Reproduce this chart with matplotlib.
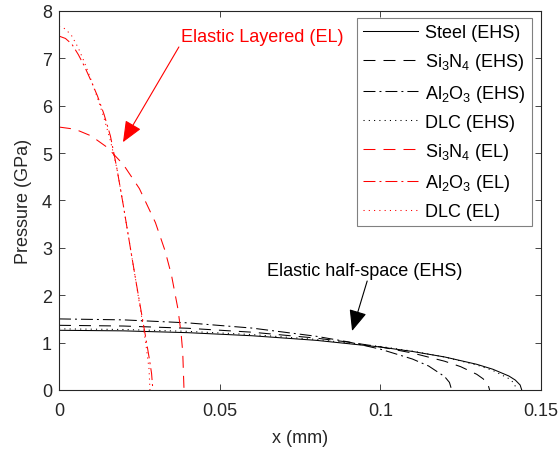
import matplotlib
matplotlib.use("Agg")
import matplotlib.pyplot as plt

plt.rcParams['font.family'] = ['Liberation Sans', 'DejaVu Sans']
plt.rcParams['mathtext.fontset'] = 'custom'
plt.rcParams['mathtext.rm'] = 'Liberation Sans'
plt.rcParams['mathtext.it'] = 'Liberation Sans:italic'
plt.rcParams['lines.scale_dashes'] = False

# elastic half-space (EHS) curves
steel_ehs_x = [0, 0.02, 0.04, 0.06, 0.08, 0.10, 0.11, 0.12, 0.13, 0.135, 0.14, 0.142, 0.1435, 0.144]
steel_ehs_p = [1.26, 1.248, 1.21, 1.145, 1.048, 0.907, 0.813, 0.697, 0.542, 0.438, 0.295, 0.209, 0.105, 0]

si3n4_ehs_x = [0, 0.02, 0.04, 0.06, 0.08, 0.09, 0.10, 0.11, 0.12, 0.125, 0.13, 0.132, 0.1335, 0.134]
si3n4_ehs_p = [1.365, 1.35, 1.303, 1.22, 1.095, 1.011, 0.909, 0.78, 0.607, 0.492, 0.331, 0.235, 0.118, 0]

al2o3_ehs_x = [0, 0.02, 0.04, 0.06, 0.08, 0.09, 0.10, 0.11, 0.115, 0.12, 0.1215, 0.1222]
al2o3_ehs_p = [1.50, 1.48, 1.417, 1.307, 1.134, 1.015, 0.862, 0.653, 0.507, 0.283, 0.16, 0]

dlc_ehs_x = [0, 0.02, 0.04, 0.06, 0.08, 0.10, 0.11, 0.12, 0.13, 0.135, 0.14, 0.1415, 0.1425]
dlc_ehs_p = [1.29, 1.277, 1.238, 1.17, 1.067, 0.919, 0.82, 0.696, 0.528, 0.413, 0.24, 0.153, 0]

# elastic layered (EL) curves
si3n4_el_x = [0, 0.005, 0.01, 0.015, 0.02, 0.025, 0.03, 0.033, 0.035, 0.037, 0.038, 0.0385, 0.0389]
si3n4_el_p = [5.55, 5.504, 5.363, 5.121, 4.76, 4.252, 3.533, 2.938, 2.422, 1.713, 1.187, 0.794, 0]

al2o3_el_x = [0, 0.002, 0.004, 0.006, 0.008, 0.010, 0.012, 0.014, 0.016, 0.018, 0.020, 0.022,
              0.024, 0.026, 0.027, 0.028, 0.0288, 0.0292]
al2o3_el_p = [7.47, 7.42, 7.30, 7.08, 6.82, 6.52, 6.20, 5.82, 5.36, 4.68, 3.90, 3.08,
              2.27, 1.49, 1.10, 0.70, 0.35, 0]

dlc_el_x = [0, 0.002, 0.004, 0.006, 0.008, 0.010, 0.012, 0.014, 0.016, 0.018, 0.020, 0.022,
            0.024, 0.026, 0.027, 0.028, 0.0283]
dlc_el_p = [7.68, 7.62, 7.47, 7.22, 6.90, 6.54, 6.16, 5.74, 5.26, 4.68, 3.90, 3.08,
            2.26, 1.42, 0.98, 0.45, 0]

dash = (8.6, 5.8)
dashdot = (8.6, 2.9, 1.4, 2.9)
dot = (0.8, 3.0)
lw = 0.75

fig = plt.figure(figsize=(5.6, 4.52), dpi=100)
ax = fig.add_axes([0.1054, 0.135, 0.8607, 0.8385])

ax.plot(steel_ehs_x, steel_ehs_p, color='k', lw=lw, label='Steel (EHS)')
ax.plot(si3n4_ehs_x, si3n4_ehs_p, color='k', lw=lw, dashes=dash, label='Si$_3$N$_4$ (EHS)')
ax.plot(al2o3_ehs_x, al2o3_ehs_p, color='k', lw=lw, dashes=dashdot, label='Al$_2$O$_3$ (EHS)')
ax.plot(dlc_ehs_x, dlc_ehs_p, color='k', lw=lw, dashes=dot, label='DLC (EHS)')
ax.plot(si3n4_el_x, si3n4_el_p, color='r', lw=lw, dashes=dash, label='Si$_3$N$_4$ (EL)')
ax.plot(al2o3_el_x, al2o3_el_p, color='r', lw=lw, dashes=dashdot, label='Al$_2$O$_3$ (EL)')
ax.plot(dlc_el_x, dlc_el_p, color='r', lw=lw, dashes=dot, label='DLC (EL)')

ax.set_xlim(0, 0.15)
ax.set_ylim(0, 8)
ax.set_xticks([0, 0.05, 0.1, 0.15])
ax.set_xticklabels(['0', '0.05', '0.1', '0.15'])
ax.set_yticks(range(0, 9))
ax.tick_params(direction='in', top=True, right=True, length=4.3, width=0.6,
               labelsize=13, colors='#262626', pad=5)
ax.tick_params(axis='x', pad=8.5)
for s in ax.spines.values():
    s.set_linewidth(0.8)
    s.set_color('#262626')
ax.set_xlabel('x (mm)', fontsize=13, color='#262626', labelpad=7.5)
ax.set_ylabel('Pressure (GPa)', fontsize=13, color='#262626', labelpad=7.5)

leg = ax.legend(loc='upper right', bbox_to_anchor=(0.981, 0.9815), borderaxespad=0,
                fontsize=13, handlelength=3.05, handletextpad=0.4, borderpad=0.35,
                labelspacing=0.56, fancybox=False, framealpha=1)
leg.get_frame().set_edgecolor('0.5')
leg.get_frame().set_linewidth(0.8)

ax.text(0.0632, 7.47, 'Elastic Layered (EL)', color='r', fontsize=13, ha='center', va='center')
ax.annotate('', xy=(0.0199, 5.23), xytext=(0.0373, 7.24),
            arrowprops=dict(arrowstyle='-|>,head_length=1.3,head_width=0.55', color='r',
                            lw=0.8, mutation_scale=10, shrinkA=0, shrinkB=0))
ax.text(0.0952, 2.53, 'Elastic half-space (EHS)', color='k', fontsize=13, ha='center', va='center')
ax.annotate('', xy=(0.0912, 1.245), xytext=(0.0959, 2.30),
            arrowprops=dict(arrowstyle='-|>,head_length=1.3,head_width=0.55', color='k',
                            lw=0.8, mutation_scale=10, shrinkA=0, shrinkB=0))

fig.savefig('out.png', dpi=100)
